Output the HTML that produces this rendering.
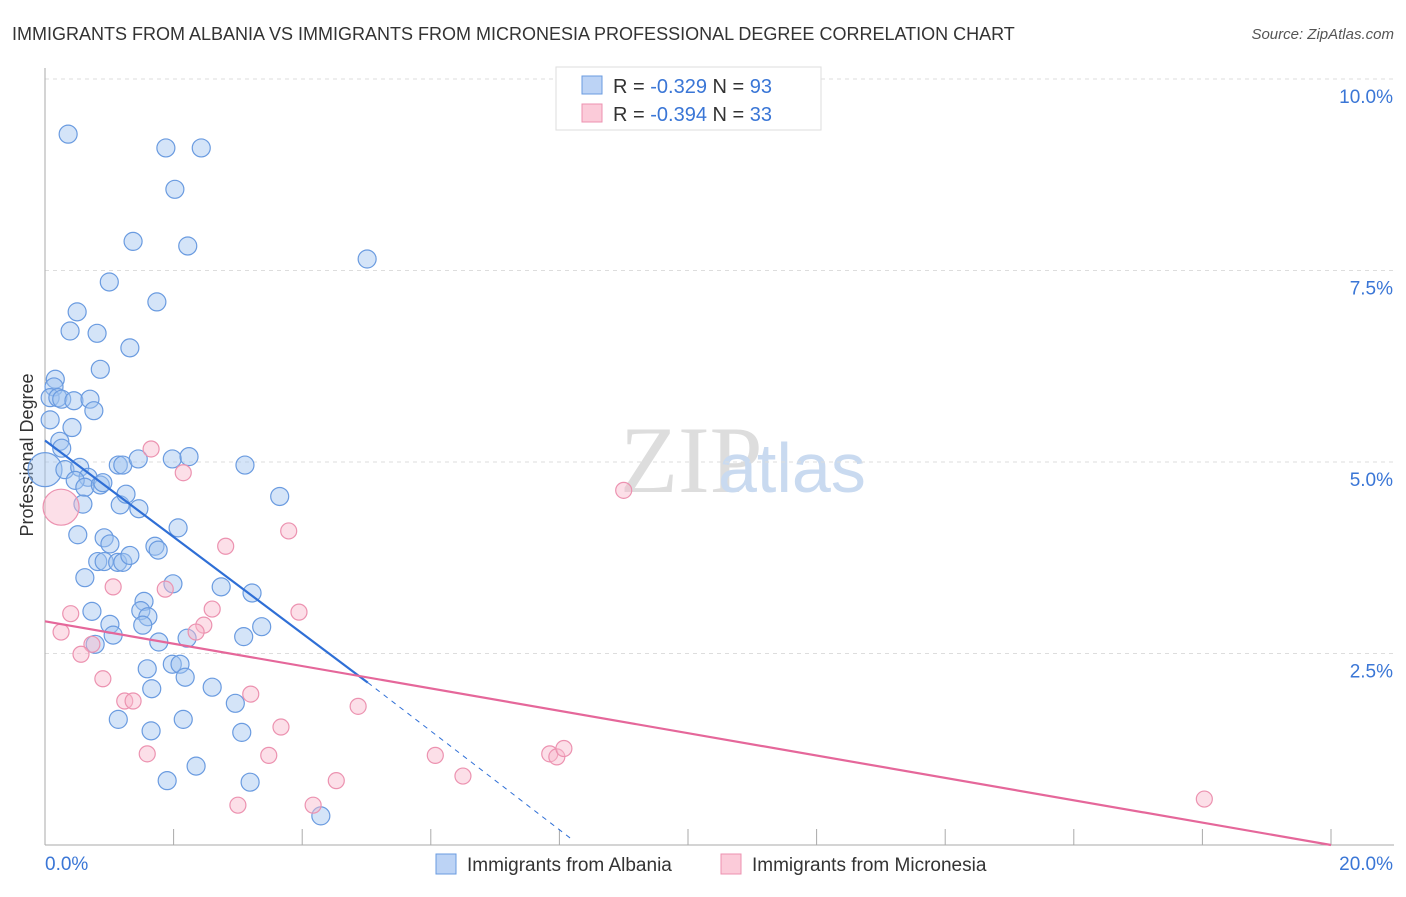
<!DOCTYPE html>
<html><head><meta charset="utf-8"><style>
body{margin:0;background:#fff;font-family:"Liberation Sans",sans-serif}
</style></head><body>
<svg width="1406" height="892" id="c" xmlns="http://www.w3.org/2000/svg" font-family="Liberation Sans, sans-serif">
<text x="12" y="40" font-size="18" fill="#333">IMMIGRANTS FROM ALBANIA VS IMMIGRANTS FROM MICRONESIA PROFESSIONAL DEGREE CORRELATION CHART</text>
<text x="1394" y="39" font-size="15" fill="#555" font-style="italic" text-anchor="end">Source: ZipAtlas.com</text>
<text x="620" y="492" font-size="95" fill="#ddd" font-family="Liberation Serif, serif">ZIP</text>
<text x="718" y="492" font-size="70" fill="#c9daf0">atlas</text>
<text transform="translate(33,455) rotate(-90)" font-size="18" fill="#333" text-anchor="middle">Professional Degree</text>
<g id="grid"></g><g id="marks"></g>
<g>
<rect x="556" y="67" width="265" height="63" fill="#fff" stroke="#ddd"/>
<rect x="582" y="76" width="20" height="18" fill="#bcd3f5" stroke="#6a9be0"/>
<rect x="582" y="104" width="20" height="18" fill="#fbcbd9" stroke="#ec92b0"/>
<text x="613" y="93" font-size="20" fill="#333">R = <tspan fill="#3a76d6">-0.329</tspan>    N = <tspan fill="#3a76d6">93</tspan></text>
<text x="613" y="121" font-size="20" fill="#333">R = <tspan fill="#3a76d6">-0.394</tspan>    N = <tspan fill="#3a76d6">33</tspan></text>
</g>
<g>
<rect x="436" y="854" width="20" height="20" fill="#bcd3f5" stroke="#6a9be0"/>
<text x="467" y="871" font-size="19" fill="#333">Immigrants from Albania</text>
<rect x="721" y="854" width="20" height="20" fill="#fbcbd9" stroke="#ec92b0"/>
<text x="752" y="871" font-size="19" fill="#333">Immigrants from Micronesia</text>
</g>
</svg>
<script>
const yTicks=[2.5,5,7.5,10];
const yTickLabels=["2.5%","5.0%","7.5%","10.0%"];
const xTicks=[0,2,4,6,8,10,12,14,16,18,20];
const albaniaX=[0.36,1.88,2.43,2.02,1.37,2.22,5.01,1.00,1.74,0.50,0.39,0.81,1.32,0.86,0.16,0.14,0.08,0.20,0.26,0.45,0.70,0.76,0.08,0.42,0.23,0.26,0,0.31,0.54,0.67,0.47,0.62,0.86,0.90,1.14,1.21,1.45,1.98,2.24,3.11,3.65,0.59,1.17,1.26,1.46,2.07,0.51,0.92,1.01,1.71,1.76,0.62,0.82,0.92,1.13,1.21,1.32,1.99,2.74,3.22,0.73,1.54,1.49,1.60,1.52,1.01,1.06,2.21,1.77,3.09,3.37,0.78,1.59,1.98,2.10,2.18,1.66,2.60,2.96,1.14,2.15,1.65,3.06,2.35,1.90,3.19,4.29];
const albaniaY=[9.28,9.10,9.10,8.56,7.88,7.82,7.65,7.35,7.09,6.96,6.71,6.68,6.49,6.21,6.08,5.98,5.84,5.84,5.82,5.80,5.82,5.67,5.55,5.45,5.27,5.18,4.90,4.90,4.93,4.80,4.76,4.67,4.70,4.73,4.96,4.96,5.04,5.04,5.07,4.96,4.55,4.45,4.44,4.58,4.39,4.14,4.05,4.01,3.93,3.90,3.85,3.49,3.70,3.70,3.69,3.69,3.78,3.41,3.37,3.29,3.05,3.18,3.06,2.98,2.87,2.88,2.74,2.70,2.65,2.72,2.85,2.62,2.30,2.36,2.36,2.19,2.04,2.06,1.85,1.64,1.64,1.49,1.47,1.03,0.84,0.82,0.38];
const microX=[0.25,1.65,2.15,9.00,3.79,2.81,0.40,1.06,1.87,2.60,3.95,2.47,2.35,0.25,0.73,0.56,0.90,1.24,1.37,3.20,4.87,3.67,1.59,3.48,6.07,7.85,7.96,8.07,4.53,6.50,3.00,4.17,18.03];
const microY=[4.41,5.17,4.86,4.63,4.10,3.90,3.02,3.37,3.34,3.08,3.04,2.87,2.78,2.78,2.62,2.49,2.17,1.88,1.88,1.97,1.81,1.54,1.19,1.17,1.17,1.19,1.15,1.26,0.84,0.90,0.52,0.52,0.60];
const X=v=>45+v/20*1286, Y=v=>845-v/10*766;
const NS="http://www.w3.org/2000/svg";
const grid=document.getElementById('grid'), marks=document.getElementById('marks');
function el(t,a,p){const e=document.createElementNS(NS,t);for(const k in a)e.setAttribute(k,a[k]);p.appendChild(e);return e;}
yTicks.forEach((v,i)=>{
 const l=el('line',{x1:45,x2:1394,y1:Y(v),y2:Y(v),stroke:'#ddd','stroke-dasharray':'4,4'},grid);
 
 
 const t=el('text',{x:1393,y:Y(v)+24,'font-size':19,fill:'#3a76d6','text-anchor':'end'},grid);
 t.textContent=yTickLabels[i];
 
 
});
const ax=el('line',{x1:45,x2:45,y1:68,y2:845,stroke:'#aaa'},grid);


const bx=el('line',{x1:45,x2:1394,y1:845,y2:845,stroke:'#aaa'},grid);


xTicks.forEach(v=>{const t=el('line',{x1:X(v),x2:X(v),y1:829,y2:845,stroke:'#aaa'},grid);
 
 });
[[0,"0.0%",45,'start'],[20,"20.0%",1393,'end']].forEach(d=>{const t=el('text',{x:d[2],y:870,'font-size':19,fill:'#3a76d6','text-anchor':d[3]},grid);t.textContent=d[1];
 
 });
albaniaX.forEach((x,i)=>{const c=el('circle',{cx:X(x),cy:Y(albaniaY[i]),r:x==0?17:9,fill:'rgba(160,195,240,0.45)',stroke:'#6a9be0','stroke-width':1.2},marks);
 
 });
microX.forEach((x,i)=>{const c=el('circle',{cx:X(x),cy:Y(microY[i]),r:i==0?18:8,fill:'rgba(248,185,205,0.45)',stroke:'#ec92b0','stroke-width':1.2},marks);
 
 });
const bl=el('line',{x1:X(0),y1:Y(5.28),x2:X(5.02),y2:Y(2.12),stroke:'#2f6fd6','stroke-width':2.2},marks);


const bd=el('line',{x1:X(5.02),y1:Y(2.12),x2:X(8.2),y2:Y(0.07),stroke:'#2f6fd6','stroke-width':1,'stroke-dasharray':'5,5'},marks);


const pl=el('line',{x1:X(0),y1:Y(2.92),x2:X(20),y2:Y(0),stroke:'#e5679a','stroke-width':2.2},marks);


</script>
</body></html>
